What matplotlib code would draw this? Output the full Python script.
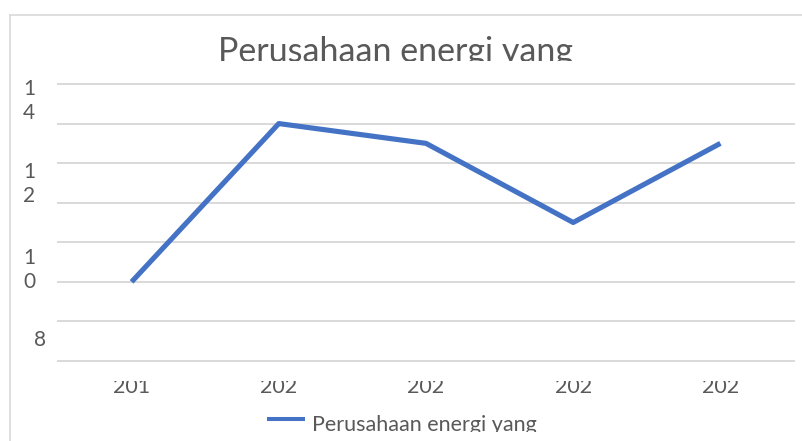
import matplotlib
matplotlib.use("Agg")
import matplotlib.pyplot as plt
from matplotlib.lines import Line2D
from matplotlib.transforms import Bbox, blended_transform_factory

# data
years = ["201", "202", "202", "202", "202"]
values = [10, 14, 13.5, 11.5, 13.5]
y_labels = ["1\n4", "1\n2", "1\n0", "8"]
title = "Perusahaan energi yang"
series_name = "Perusahaan energi yang"

W, H = 803, 441
plt.rcParams['font.family'] = ['Lato', 'DejaVu Sans']
txt_c = '#595959'
grid_c = '#D9D9D9'
blue = '#4472C4'

fig = plt.figure(figsize=(W / 100, H / 100), dpi=100)


def clip(x0, y0, x1, y1):
    # pixel box measured from the top-left corner -> display bbox
    return Bbox.from_extents(x0, H - y1, x1, H - y0)


def ftext(x, y, s, box, **kw):
    t = fig.text(x / W, 1 - y / H, s, color=txt_c, **kw)
    t.set_clip_on(True)
    t.set_clip_box(box)
    return t


# outer chart border (partly out of view)
fig.add_artist(Line2D([10 / W, 10 / W], [1 - 15 / H, 0], transform=fig.transFigure,
                      color=grid_c, lw=1.2))
fig.add_artist(Line2D([10 / W, 1], [1 - 15 / H, 1 - 15 / H], transform=fig.transFigure,
                      color=grid_c, lw=1.2))

# plot area
ax = fig.add_axes([58 / W, 1 - 361 / H, (794 - 58) / W, (361 - 84) / H])
ax.set_xlim(-0.5, len(values) - 0.5)
ax.set_ylim(8, 15)
ax.set_yticks(range(8, 16))
ax.set_xticks([])
ax.tick_params(left=False, labelleft=False)
ax.grid(axis='y', color=grid_c, lw=1.4)
for gl in ax.yaxis.get_gridlines():
    gl.set_clip_on(False)
for s in ax.spines.values():
    s.set_visible(False)
ax.set_axisbelow(True)

ax.plot(range(len(values)), values, color=blue, lw=3.7,
        solid_joinstyle='round', solid_capstyle='butt', zorder=3)

# category labels (cut off at the top)
tr = blended_transform_factory(ax.transData, fig.transFigure)
for i, lab in enumerate(years):
    t = fig.text(i, 1 - 393 / H, lab, transform=tr, ha='center', va='baseline',
                 fontsize=15.5, color=txt_c)
    t.set_clip_on(True)
    t.set_clip_box(clip(0, 381, W, H))

# value labels, wrapped as in the original
ypos = [(29, 101), (29, 184.5), (29, 269.5), (40.5, 340)]
for lab, (x, y) in zip(y_labels, ypos):
    ftext(x, y, lab, clip(0, 0, W, H), ha='center', va='center',
          fontsize=15, linespacing=1.25)

# title (bottom cut off)
ftext(395.5, 62, title, clip(0, 0, W, 61), ha='center', va='baseline', fontsize=24.5)

# legend (bottom cut off)
fig.add_artist(Line2D([267 / W, 305 / W], [1 - 418.7 / H, 1 - 418.7 / H],
                      transform=fig.transFigure, color=blue, lw=2.9,
                      solid_capstyle='butt'))
ftext(312, 431, series_name, clip(0, 0, W, 432), ha='left', va='baseline', fontsize=15.5)

fig.savefig('out.png', dpi=100)
